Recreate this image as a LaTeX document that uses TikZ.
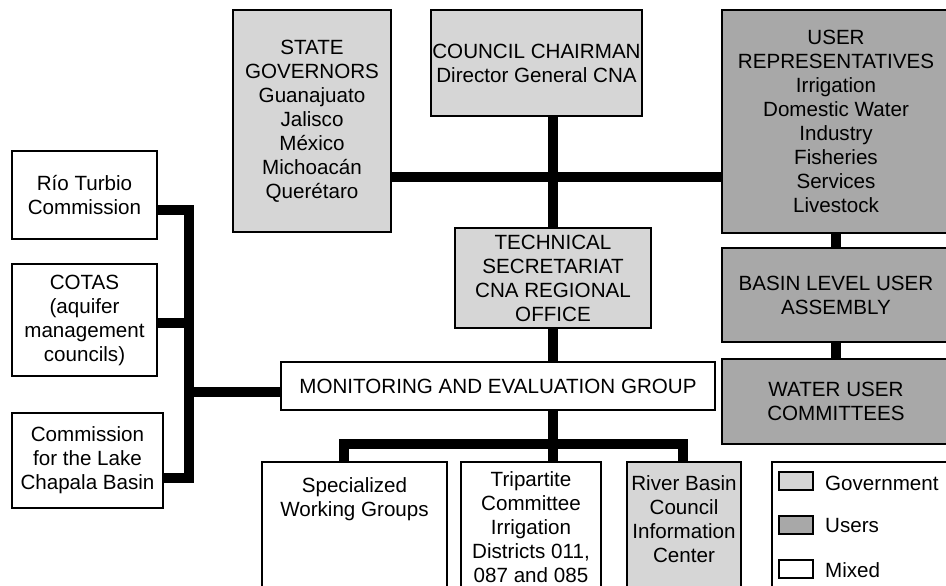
\documentclass[tikz,border=0pt]{standalone}
\usepackage{fontspec}
\setmainfont{Liberation Sans}
\definecolor{govgray}{RGB}{214,214,214}
\definecolor{usergray}{RGB}{168,168,168}
\begin{document}
\begin{tikzpicture}[x=1pt,y=-1pt,
  box/.style={draw=black,line width=2pt,align=center,inner sep=0pt,font=\fontsize{20.6}{24}\selectfont},
  gov/.style={box,fill=govgray},
  usr/.style={box,fill=usergray},
  mix/.style={box,fill=white},
  swatch/.style={draw=black,line width=2pt,minimum width=34pt,minimum height=18pt,inner sep=0pt},
  legtext/.style={anchor=base west,inner sep=0pt,font=\fontsize{20.6}{24}\selectfont},
  conn/.style={line width=10pt,line join=miter}]
\useasboundingbox (0,0) rectangle (946,586);

% top row
\node[gov,minimum width=158pt,minimum height=222pt] (sg) at (312,121)
  {STATE\\GOVERNORS\\Guanajuato\\Jalisco\\México\\Michoacán\\Querétaro};
\node[gov,minimum width=211pt,minimum height=106pt] (cc) at (536.5,63)
  {COUNCIL CHAIRMAN\\Director General CNA};
\node[usr,minimum width=228pt,minimum height=223pt] (ur) at (836,121.5)
  {USER\\REPRESENTATIVES\\Irrigation\\Domestic Water\\Industry\\Fisheries\\Services\\Livestock};
\node[usr,minimum width=228pt,minimum height=94pt] (blua) at (836,295)
  {BASIN LEVEL USER\\ASSEMBLY};
\node[usr,minimum width=228pt,minimum height=85pt] (wuc) at (836,401.5)
  {WATER USER\\COMMITTEES};
\node[gov,minimum width=196pt,minimum height=100pt] (ts) at (553,278)
  {TECHNICAL\\SECRETARIAT\\CNA REGIONAL\\OFFICE};
\node[mix,minimum width=434pt,minimum height=48pt] (mon) at (498,386)
  {MONITORING AND EVALUATION GROUP};

% left column
\node[mix,minimum width=145pt,minimum height=88pt] (rt) at (84.5,195)
  {Río Turbio\\Commission};
\node[mix,minimum width=145pt,minimum height=112pt] (co) at (84.5,320)
  {COTAS\\(aquifer\\management\\councils)};
\node[mix,minimum width=151pt,minimum height=95pt] (lc) at (87.5,460.5)
  {Commission\\for the Lake\\Chapala Basin};

% bottom row
\node[mix,minimum width=185pt,minimum height=138pt] (spec) at (354.5,531)
  {\parbox[c][138pt][t]{180pt}{\centering\vspace*{16pt}Specialized\\Working Groups}};
\node[mix,minimum width=140pt,minimum height=138pt] (trip) at (531,531)
  {\parbox[c][138pt][t]{138pt}{\centering\vspace*{10pt}Tripartite\\Committee\\Irrigation\\Districts 011,\\087 and 085}};
\node[gov,minimum width=114pt,minimum height=138pt] (rb) at (684,531)
  {\parbox[c][138pt][t]{112pt}{\centering\vspace*{14pt}River Basin\\Council\\Information\\Center}};

% legend
\node[mix,minimum width=178pt,minimum height=138pt] (leg) at (861,531) {};
\node[swatch,fill=govgray] (sw1) at (796,481) {};
\node[swatch,fill=usergray] (sw2) at (796,524.5) {};
\node[swatch,fill=white] (sw3) at (796,568.5) {};
\node[legtext] (lt1) at (825,490) {Government};
\node[legtext] (lt2) at (825,532) {Users};
\node[legtext] (lt3) at (825,577) {Mixed};

% connectors
\coordinate (hbus) at (553,177);
\draw[conn] (sg.east |- hbus) -- (ur.west |- hbus);
\draw[conn] (ts.north) -- (ts.north |- cc.south);
\draw[conn] (ts.south) -- (ts.south |- mon.north);
\draw[conn] (ur.south) -- (blua.north);
\draw[conn] (blua.south) -- (wuc.north);

\coordinate (busL) at (344,444);
\coordinate (busR) at (683,444);
\draw[conn] (busL |- spec.north) -- (busL) -- (busR) -- (busR |- rb.north);
\draw[conn] (ts.south |- mon.south) -- (ts.south |- trip.north);

\coordinate (lbT) at (189,210);
\coordinate (lbM) at (189,323);
\coordinate (lbX) at (189,392);
\coordinate (lbB) at (189,478);
\draw[conn] (rt.east |- lbT) -- (lbT) -- (lbB) -- (lc.east |- lbB);
\draw[conn] (co.east |- lbM) -- (lbM);
\draw[conn] (lbX) -- (mon.west |- lbX);
\end{tikzpicture}
\end{document}
